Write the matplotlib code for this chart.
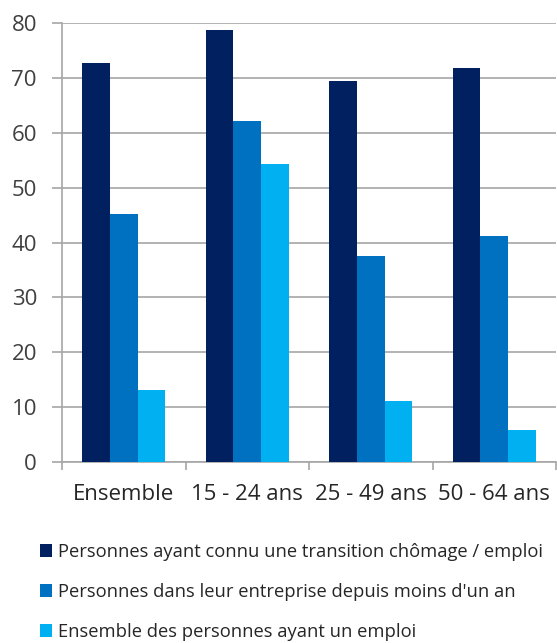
import matplotlib
matplotlib.use("Agg")
import matplotlib.pyplot as plt
import numpy as np

categories = ["Ensemble", "15 - 24 ans", "25 - 49 ans", "50 - 64 ans"]
series_names = [
    "Personnes ayant connu une transition chômage / emploi",
    "Personnes dans leur entreprise depuis moins d'un an",
    "Ensemble des personnes ayant un emploi",
]
transition = [72.7, 78.8, 69.5, 71.8]
entreprise = [45.2, 62.2, 37.6, 41.2]
emploi = [13.2, 54.3, 11.1, 5.8]
colors = ["#002060", "#0070C0", "#00B0F0"]
yticks = [0, 10, 20, 30, 40, 50, 60, 70, 80]

plt.rcParams['font.family'] = ['Open Sans', 'DejaVu Sans']

W, H = 557, 643
fig = plt.figure(figsize=(W / 100, H / 100), dpi=100)
left, right, top, bottom = 62, 556, 23.3, 462
ax = fig.add_axes([left / W, 1 - bottom / H, (right - left) / W, (bottom - top) / H])

x = np.arange(len(categories)) + 0.5
bw = 0.223
grid_c = "#a6a6a6"
handles = []
for j, vals in enumerate([transition, entreprise, emploi]):
    b = ax.bar(x + (j - 1) * bw, vals, width=bw, color=colors[j], label=series_names[j], zorder=3)
    handles.append(b)

ax.set_xlim(0, len(categories))
ax.set_ylim(0, 80)
ax.set_yticks(yticks)
ax.set_yticklabels([str(v) for v in yticks], fontsize=16, color="#404040")
ax.set_xticks(np.arange(len(categories) + 1))
ax.set_xticklabels([])
ax.set_xticks(x, minor=True)
ax.set_xticklabels(categories, minor=True, fontsize=16, color="#262626")
ax.tick_params(axis="x", which="minor", length=0, pad=16)
ax.tick_params(axis="x", which="major", length=6, width=1.2, color=grid_c)
ax.tick_params(axis="y", length=7, width=1.2, color=grid_c, pad=11)
ax.yaxis.grid(True, color=grid_c, linewidth=1.2, zorder=0)
for s in ["top", "right"]:
    ax.spines[s].set_visible(False)
for s in ["left", "bottom"]:
    ax.spines[s].set_color(grid_c)
    ax.spines[s].set_linewidth(1.2)
ax.set_axisbelow(True)

leg = fig.legend(handles=handles, labels=series_names, loc="upper left",
                 bbox_to_anchor=(40 / W, 1 - 543 / H), frameon=False,
                 fontsize=13.2, handlelength=0.65, handleheight=0.65,
                 handletextpad=0.35, labelspacing=1.2, borderpad=0, borderaxespad=0)
for t in leg.get_texts():
    t.set_color("#262626")

fig.savefig("out.png", dpi=100)
